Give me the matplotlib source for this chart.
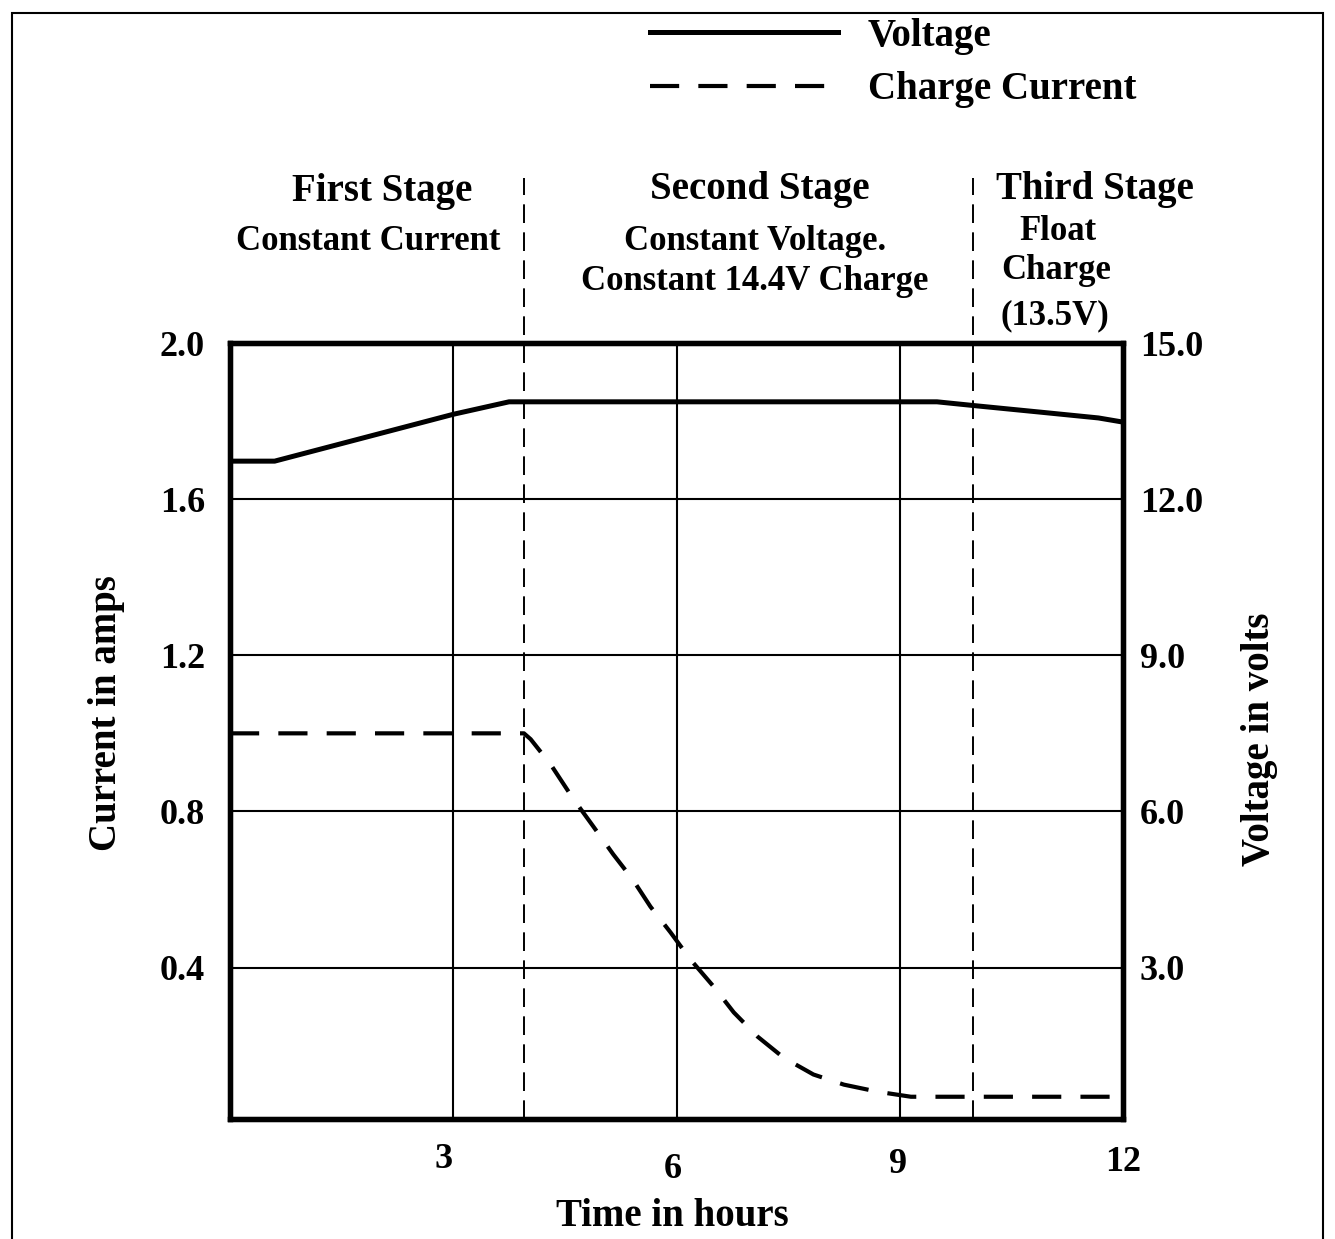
import matplotlib
matplotlib.use("Agg")
import matplotlib.pyplot as plt
from matplotlib.patches import Rectangle
from matplotlib.transforms import ScaledTranslation

plt.rcParams['font.family'] = ['Liberation Serif', 'DejaVu Serif']
plt.rcParams['font.weight'] = 'bold'

# ---- data ----
volt_time = [0.0, 0.6, 3.0, 3.75, 9.5, 10.05, 10.9, 11.67, 12.0]
volt_values = [12.73, 12.73, 13.63, 13.87, 13.87, 13.79, 13.67, 13.56, 13.48]

curr_time = [0.0, 3.95, 4.04, 4.31, 4.61, 4.88, 5.15, 5.41, 5.65, 5.92, 6.19,
             6.50, 6.77, 7.09, 7.44, 7.84, 8.25, 8.70, 9.15, 12.0]
curr_values = [1.0, 1.0, 0.985, 0.92, 0.833, 0.762, 0.69, 0.626, 0.556, 0.49, 0.42,
               0.351, 0.285, 0.223, 0.169, 0.126, 0.10, 0.082, 0.069, 0.069]

stage_bounds = [3.95, 9.98]

x_ticks = [3, 6, 9, 12]
x_tick_labels = ["3", "6", "9", "12"]
curr_ticks = [0.4, 0.8, 1.2, 1.6, 2.0]
curr_tick_labels = ["0.4", "0.8", "1.2", "1.6", "2.0"]
volt_ticks = [3.0, 6.0, 9.0, 12.0, 15.0]
volt_tick_labels = ["3.0", "6.0", "9.0", "12.0", "15.0"]

W, H = 1335, 1239
fig = plt.figure(figsize=(W / 100, H / 100), dpi=100)
ax = fig.add_axes([230 / W, 1 - 1119 / H, (1123 - 230) / W, (1119 - 343) / H])
ax2 = ax.twinx()

ymin = 0.012
ax.set_xlim(0, 12)
ax.set_ylim(ymin, 2.0)
ax2.set_ylim(ymin * 7.5, 15.0)

# grid
for t in x_ticks[:-1]:
    ax.axvline(t, color='black', lw=1.5, zorder=1)
for c in curr_ticks[:-1]:
    ax.axhline(c, color='black', lw=1.5, zorder=1)

# stage boundaries
for s in stage_bounds:
    ax.axvline(s, ymin=0, ymax=1.2126, color='black', lw=1.4, clip_on=False,
               dashes=(9.6, 4.8), zorder=2)

# current line
l_curr, = ax.plot(curr_time, curr_values, color='black', lw=3.0,
                  dashes=(7.0, 4.6), zorder=3, label='Charge Current')
# voltage line
l_volt, = ax2.plot(volt_time, volt_values, color='black', lw=3.6,
                   zorder=3, label='Voltage')

for a in (ax, ax2):
    for sp in a.spines.values():
        sp.set_linewidth(3.8)

ax.set_xticks(x_ticks)
ax.set_xticklabels(x_tick_labels, fontsize=26, fontweight='bold')
ax.set_yticks(curr_ticks)
ax.set_yticklabels(curr_tick_labels, fontsize=26, fontweight='bold')
ax2.set_yticks(volt_ticks)
ax2.set_yticklabels(volt_tick_labels, fontsize=26, fontweight='bold')
ax.tick_params(axis='both', length=0)
ax.tick_params(axis='y', pad=18)
ax.tick_params(axis='x', pad=17)
ax2.tick_params(axis='y', length=0, pad=12)

# per-label offsets (pixels) for x tick labels
x_offsets = [(-10, 0), (-4, -10), (-2, -5), (0, -3)]
for lab, (dx, dy) in zip(ax.get_xticklabels(), x_offsets):
    lab.set_transform(lab.get_transform() +
                      ScaledTranslation(dx / 100, dy / 100, fig.dpi_scale_trans))

ax.set_xlabel("Time in hours", fontsize=28, fontweight='bold')
ax.xaxis.set_label_coords(0.4955, -0.102)
ax.set_ylabel("Current in amps", fontsize=28, fontweight='bold')
ax.yaxis.set_label_coords(-0.118, 0.523)
ax2.set_ylabel("Voltage in volts", fontsize=28, fontweight='bold')
ax2.yaxis.set_label_coords(1.132, 0.49)

# stage texts
def ftext(x, y, s, size):
    fig.text(x / W, 1 - y / H, s, fontsize=size, fontweight='bold',
             ha='center', va='center')

ftext(382, 192, "First Stage", 28)
ftext(368, 242, "Constant Current", 25)
ftext(760, 190, "Second Stage", 28)
ftext(755, 242, "Constant Voltage.", 25)
ftext(755, 281, "Constant 14.4V Charge", 25)
ftext(1095, 190, "Third Stage", 28)
ftext(1058, 232, "Float", 25)
ftext(1056, 270, "Charge", 25)
ftext(1055, 316, "(13.5V)", 25)

# legend
fig.legend([l_volt, l_curr], ['Voltage', 'Charge Current'],
           loc='upper left', bbox_to_anchor=(650 / W, 1 - 18 / H),
           frameon=False, fontsize=28, handlelength=4.83, handletextpad=0.77,
           labelspacing=0.42, borderpad=0, borderaxespad=0)

# outer border
fig.patches.append(Rectangle((12 / W, -0.05), (1323 - 12) / W, 1 - 13 / H + 0.05,
                             transform=fig.transFigure, fill=False,
                             edgecolor='black', lw=1.5))

fig.savefig("out.png", dpi=100)
